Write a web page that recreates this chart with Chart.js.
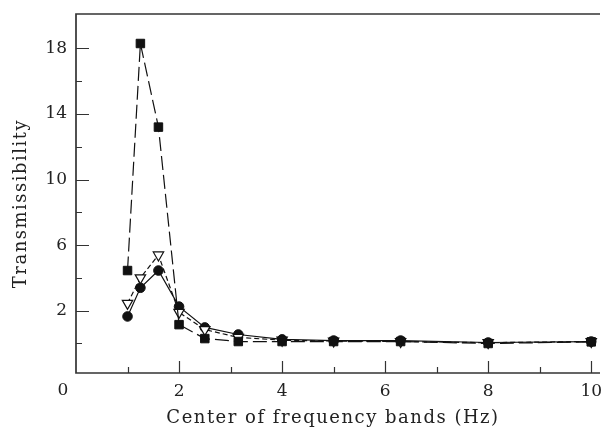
<!DOCTYPE html>
<html>
<head>
<meta charset="utf-8">
<script src="https://cdn.jsdelivr.net/npm/chart.js@4.4.0/dist/chart.umd.min.js"></script>
<style>
html, body { margin: 0; padding: 0; background: #fff; }
#wrap { width: 601px; height: 430px; }
</style>
</head>
<body>
<div id="wrap"><canvas id="chart"></canvas></div>
<script>
// centre frequencies of the 1/3 octave bands (Hz)
var freqs = [1, 1.25, 1.6, 2, 2.5, 3.15, 4, 5, 6.3, 8, 10];
var squareVals = [4.45, 18.3, 13.2, 1.15, 0.3, 0.12, 0.12, 0.12, 0.12, 0.0, 0.1];
var triangleVals = [2.45, 4.0, 5.4, 1.9, 0.85, 0.37, 0.2, 0.15, 0.12, 0.05, 0.12];
var circleVals = [1.65, 3.4, 4.45, 2.25, 0.98, 0.55, 0.25, 0.18, 0.18, 0.06, 0.12];
var xTicks = [2, 4, 6, 8, 10];
var yTicks = [2, 6, 10, 14, 18];

var serif = '"DejaVu Serif", serif';

function points(vals) {
    return freqs.map(function (f, i) { return { x: f, y: vals[i] }; });
}

// let the plot run to the right edge, the "10" label may hang over
var stretch = {
    id: 'stretch',
    afterLayout: function (chart) {
        var a = chart.chartArea, xs = chart.scales.x;
        var right = chart.width - 1;
        a.right = right;
        a.width = right - a.left;
        xs.right = right;
        xs.width = right - xs.left;
        xs.configure();
    }
};

// the axis titles in the print are loosely spaced and a bit off centre
var spacing = {
    id: 'spacing',
    beforeDraw: function (chart) {
        Object.keys(chart.scales).forEach(function (id) {
            var s = chart.scales[id];
            if (s._spaced) return;
            var orig = s.drawTitle;
            s.drawTitle = function () {
                var c = this.ctx;
                c.save();
                c.letterSpacing = '1.5px';
                if (this.axis === 'y') c.translate(0, 10);
                else c.translate(-5, 0);
                orig.apply(this, arguments);
                c.restore();
            };
            s._spaced = true;
        });
    }
};

// axis box and inward tick marks
var frame = {
    id: 'frame',
    afterDraw: function (chart) {
        var ctx = chart.ctx, a = chart.chartArea;
        var xs = chart.scales.x, ys = chart.scales.y;
        ctx.save();
        ctx.strokeStyle = '#333';
        ctx.lineWidth = 1.7;
        ctx.beginPath();
        ctx.moveTo(a.right, a.top);
        ctx.lineTo(a.left, a.top);
        ctx.lineTo(a.left, a.bottom);
        ctx.lineTo(a.right, a.bottom);
        ctx.stroke();

        ctx.lineWidth = 1.2;
        ctx.beginPath();
        for (var v = 0; v <= 18; v += 2) {
            var y = Math.round(ys.getPixelForValue(v)) + 0.5;
            var len = yTicks.indexOf(v) >= 0 ? 13 : 6;
            ctx.moveTo(a.left, y);
            ctx.lineTo(a.left + len, y);
        }
        for (var k = 1; k <= 10; k++) {
            var x = Math.round(xs.getPixelForValue(k)) + 0.5;
            var l = k % 2 === 0 ? 12 : 6;
            ctx.moveTo(x, a.bottom);
            ctx.lineTo(x, a.bottom - l);
        }
        ctx.stroke();

        // origin label sits left of the corner
        ctx.fillStyle = '#222';
        ctx.font = '17px ' + serif;
        ctx.textAlign = 'center';
        ctx.textBaseline = 'middle';
        ctx.fillText('0', xs.getPixelForValue(0) - 13, 391);
        ctx.restore();
    }
};

var ctx = document.getElementById('chart').getContext('2d');
new Chart(ctx, {
    type: 'line',
    data: {
        datasets: [{
            label: 'squares',
            data: points(squareVals),
            borderColor: '#111',
            borderWidth: 1.2,
            borderDash: [14, 5],
            pointStyle: 'rect',
            pointRadius: 6,
            pointBackgroundColor: '#111',
            pointBorderColor: '#111',
            pointBorderWidth: 1
        }, {
            label: 'triangles',
            data: points(triangleVals),
            borderColor: '#111',
            borderWidth: 1.2,
            borderDash: [5, 3],
            pointStyle: 'triangle',
            rotation: 180,
            pointRadius: 6,
            pointBackgroundColor: '#fff',
            pointBorderColor: '#111',
            pointBorderWidth: 1.2
        }, {
            label: 'circles',
            data: points(circleVals),
            borderColor: '#111',
            borderWidth: 1.2,
            pointStyle: 'circle',
            pointRadius: 4.8,
            pointBackgroundColor: '#111',
            pointBorderColor: '#111',
            pointBorderWidth: 1
        }]
    },
    options: {
        responsive: true,
        maintainAspectRatio: false,
        animation: false,
        layout: { padding: { top: 14, right: 1, left: 0, bottom: 0 } },
        plugins: {
            legend: { display: false },
            tooltip: { enabled: false }
        },
        scales: {
            x: {
                type: 'linear',
                min: 0,
                max: 10.17,
                afterBuildTicks: function (s) { s.ticks = xTicks.map(function (v) { return { value: v }; }); },
                afterFit: function (s) { s.height = 57; },
                grid: { display: false, drawTicks: false },
                border: { display: false },
                ticks: { color: '#222', font: { family: serif, size: 17 }, padding: 8, maxRotation: 0 },
                title: {
                    display: true,
                    text: 'Center of frequency bands (Hz)',
                    color: '#222',
                    font: { family: serif, size: 18 },
                    padding: { top: 0, bottom: 1 }
                }
            },
            y: {
                type: 'linear',
                min: -1.8,
                max: 20.1,
                afterBuildTicks: function (s) { s.ticks = yTicks.map(function (v) { return { value: v }; }); },
                afterFit: function (s) { s.width = 76; s.paddingTop = 0; s.paddingBottom = 0; },
                grid: { display: false, drawTicks: false },
                border: { display: false },
                ticks: { color: '#222', font: { family: serif, size: 17 }, padding: 9 },
                title: {
                    display: true,
                    text: 'Transmissibility',
                    color: '#222',
                    font: { family: serif, size: 18 },
                    padding: { top: 11, bottom: 0 }
                }
            }
        }
    },
    plugins: [stretch, spacing, frame]
});
</script>
</body>
</html>
